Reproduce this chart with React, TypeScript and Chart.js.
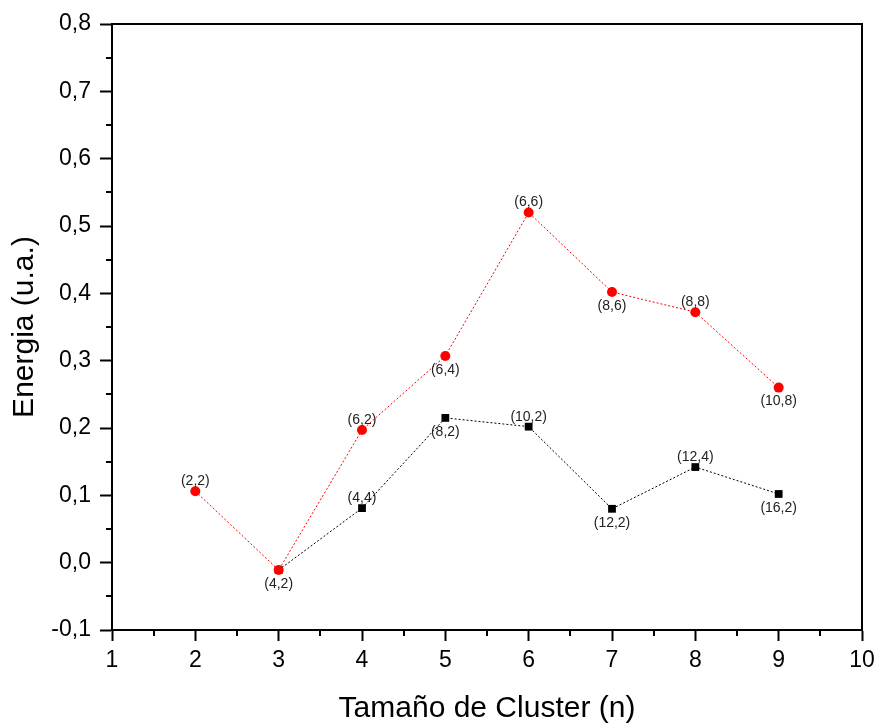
import React, { useEffect, useRef } from "react";
import { Chart, registerables } from "chart.js";

Chart.register(...registerables);

// ---- data ----
const redX = [2, 3, 4, 5, 6, 7, 8, 9];
const redValues = [0.106, -0.011, 0.197, 0.307, 0.52, 0.402, 0.372, 0.26];
const redLabels = ["(2,2)", "(4,2)", "(6,2)", "(6,4)", "(6,6)", "(8,6)", "(8,8)", "(10,8)"];
const redLabelSide = ["above", "below", "above", "below", "above", "below", "above", "below"];

const blackX = [3, 4, 5, 6, 7, 8, 9];
const blackValues = [-0.011, 0.081, 0.215, 0.202, 0.08, 0.142, 0.102];
const blackLabels = ["", "(4,4)", "(8,2)", "(10,2)", "(12,2)", "(12,4)", "(16,2)"];
const blackLabelSide = ["", "above", "below", "above", "below", "above", "below"];

const xTicks = [1, 2, 3, 4, 5, 6, 7, 8, 9, 10];
const yTicks = [-0.1, 0, 0.1, 0.2, 0.3, 0.4, 0.5, 0.6, 0.7, 0.8];

const xTitle = "Tamaño de Cluster (n)";
const yTitle = "Energia (u.a.)";

const FONT = "Arial, 'Liberation Sans', sans-serif";

const labelsPlugin = {
  id: "pointLabels",
  afterDatasetsDraw(chart: any) {
    const ctx = chart.ctx;
    ctx.save();
    ctx.font = `14px ${FONT}`;
    ctx.fillStyle = "#222";
    ctx.textAlign = "center";
    ctx.textBaseline = "middle";
    chart.data.datasets.forEach((ds: any, di: number) => {
      const meta = chart.getDatasetMeta(di);
      const labels = ds.pointTexts as string[];
      const sides = ds.pointSides as string[];
      meta.data.forEach((el: any, i: number) => {
        const t = labels[i];
        if (!t) return;
        const dy = sides[i] === "above" ? -10 : 14;
        ctx.fillText(t, el.x, el.y + dy);
      });
    });
    ctx.restore();
  },
};

const framePlugin = {
  id: "frame",
  afterDraw(chart: any) {
    const { ctx, chartArea } = chart;
    const { left, right, top, bottom } = chartArea;
    const xs = chart.scales.x;
    const ys = chart.scales.y;
    ctx.save();
    ctx.strokeStyle = "#000";
    ctx.lineWidth = 2;
    ctx.beginPath();
    ctx.moveTo(left - 1, top);
    ctx.lineTo(right, top);
    ctx.lineTo(right, bottom);
    ctx.stroke();
    // minor ticks
    ctx.beginPath();
    for (let i = 0; i < xTicks.length - 1; i++) {
      const v = (xTicks[i] + xTicks[i + 1]) / 2;
      const px = Math.round(xs.getPixelForValue(v));
      ctx.moveTo(px, bottom);
      ctx.lineTo(px, bottom + 6);
    }
    for (let i = 0; i < yTicks.length - 1; i++) {
      const v = (yTicks[i] + yTicks[i + 1]) / 2;
      const py = Math.round(ys.getPixelForValue(v));
      ctx.moveTo(left, py);
      ctx.lineTo(left - 6, py);
    }
    ctx.stroke();
    ctx.restore();
  },
};

export default function App() {
  const canvasRef = useRef<HTMLCanvasElement | null>(null);

  useEffect(() => {
    const canvas = canvasRef.current;
    if (!canvas) return;
    const chart = new Chart(canvas, {
      type: "line",
      data: {
        datasets: [
          {
            label: "red",
            data: redX.map((x, i) => ({ x, y: redValues[i] })),
            borderColor: "#ff0000",
            backgroundColor: "#ff0000",
            borderWidth: 1,
            borderDash: [2, 2],
            pointStyle: "circle",
            pointRadius: 5,
            pointBorderWidth: 0,
            pointBackgroundColor: "#ff0000",
            tension: 0,
            pointTexts: redLabels,
            pointSides: redLabelSide,
          } as any,
          {
            label: "black",
            data: blackX.map((x, i) => ({ x, y: blackValues[i] })),
            borderColor: "#000000",
            backgroundColor: "#000000",
            borderWidth: 1,
            borderDash: [2, 2],
            pointStyle: "rect",
            pointRadius: 5.5,
            pointBorderWidth: 0,
            pointBackgroundColor: "#000000",
            tension: 0,
            pointTexts: blackLabels,
            pointSides: blackLabelSide,
          } as any,
        ],
      },
      options: {
        animation: false,
        responsive: false,
        maintainAspectRatio: false,
        layout: { padding: { top: 24, right: 16, left: 0, bottom: 0 } },
        plugins: {
          legend: { display: false },
          tooltip: { enabled: false },
        },
        scales: {
          x: {
            type: "linear",
            min: xTicks[0],
            max: xTicks[xTicks.length - 1],
            afterBuildTicks: (s: any) => {
              s.ticks = xTicks.map((v) => ({ value: v }));
            },
            afterFit: (s: any) => {
              s.height = 95;
              s.paddingRight = 0;
              s.paddingLeft = 0;
            },
            grid: {
              drawOnChartArea: false,
              drawTicks: true,
              tickLength: 11,
              tickWidth: 2,
              tickColor: "#000",
            },
            border: { display: true, color: "#000", width: 2 },
            ticks: {
              color: "#000",
              font: { family: FONT, size: 23 },
              padding: 6,
              maxRotation: 0,
              callback: (v: any) => String(v),
            },
            title: {
              display: true,
              text: xTitle,
              color: "#000",
              font: { family: FONT, size: 30, lineHeight: 1 },
              padding: { top: 0, bottom: 1 },
            },
          },
          y: {
            type: "linear",
            min: yTicks[0],
            max: yTicks[yTicks.length - 1],
            afterBuildTicks: (s: any) => {
              s.ticks = yTicks.map((v) => ({ value: v }));
            },
            afterFit: (s: any) => {
              s.width = 112;
            },
            grid: {
              drawOnChartArea: false,
              drawTicks: true,
              tickLength: 12,
              tickWidth: 2,
              tickColor: "#000",
            },
            border: { display: true, color: "#000", width: 2 },
            ticks: {
              color: "#000",
              font: { family: FONT, size: 23 },
              padding: 9,
              callback: (v: any) => Number(v).toFixed(1).replace(".", ","),
            },
            title: {
              display: true,
              text: yTitle,
              color: "#000",
              font: { family: FONT, size: 30, lineHeight: 1 },
              padding: { top: 10, bottom: 0 },
            },
          },
        },
      },
      plugins: [labelsPlugin, framePlugin],
    });
    return () => chart.destroy();
  }, []);

  return (
    <div style={{ position: "absolute", left: 0, top: 0, width: 878, height: 725, background: "#fff" }}>
      <canvas ref={canvasRef} width={878} height={725} style={{ display: "block" }} />
    </div>
  );
}
